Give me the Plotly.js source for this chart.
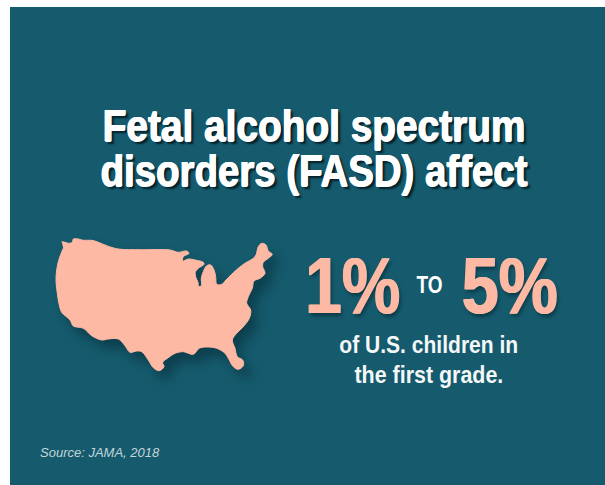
<!DOCTYPE html>
<html>
<head>
<meta charset="utf-8">
<script src="https://cdn.plot.ly/plotly-3.0.1.min.js"></script>
<style>html,body{margin:0;padding:0;background:#fff}#chart{width:605px;height:485px}</style>
</head>
<body>
<div id="chart"></div>
<script>
// Outline of the contiguous United States, in panel units
const outlineX = [61.7,65,68.3,72.3,73.3,78.3,83.3,91.7,98.3,106.7,118.3,140,170,178.3,186.7,189,183.3,182.7,188.3,195,203.3,204,198.3,195.3,196,198,198.7,201.3,201.3,203.3,206.7,210.7,214,215.7,216.7,221.7,226,231.7,238.3,245,253.3,256,258.3,261.7,266,268.3,272.3,268.3,263.3,262.7,265,260,254,252.3,248.3,246.7,250.7,249.3,243.3,236.7,232.3,235,237.3,242.7,243.3,238.3,233.3,228.3,225,216.7,206.7,199.3,193.3,183.3,175,168.3,162.7,164,159.3,153.3,148.3,141.7,136.7,130,125,118.3,108.3,101.7,91.7,83.3,73.3,70,61.7,59.3,57.3,56,58.3,63.3];
const outlineY = [241.7,242.3,243.3,242.3,239,239,240.3,240.3,242.3,245.7,249,249.7,250,252.3,251,253.3,256.7,261,259,260,262.3,264.3,268.3,272.3,277.7,282.3,286.3,285.7,278.3,271.7,265.7,265,270,276.7,284.3,284.3,280,274.3,268.3,263.3,258.3,255,246.7,243.3,245,251,254.3,258.3,262.3,266.7,273.3,278.3,281,288.3,296.7,303.3,310,318.3,326.7,333.3,340,348.3,356.7,360,365.7,369.3,366.7,358.3,353.3,348.3,347,348.3,354.3,351.7,353.3,357.7,362.3,366.7,370.7,367.7,360,351.7,351,352.3,345.7,339,339,340,335.7,328.3,326,320,312.3,305,293.3,278.3,261.7,248.3];

const panelColor = '#155b6d';
const salmon = '#fdb9a3';
const sans = '"Liberation Sans",Arial,sans-serif';

// Text blocks: wording, where each one sits, and its condensed set width
const titleLines = ['Fetal alcohol spectrum', 'disorders (FASD) affect'];
const titleY = [125, 170];
const titleX = [313.5, 313.5];
const titleWidth = [423, 427];
const figures = ['1%', '5%'];
const figureX = [352.5, 510];
const figureWidth = [95, 96];
const captionLines = ['of U.S. children in', 'the first grade.'];
const captionY = [345, 375];
const captionWidth = [179, 149];

// Zero-blur copies of the glyph thicken the type; the last layer is the cast shadow
const titleShadow = '0.6px 0 0 #fff, -0.6px 0 0 #fff, 0 0.5px 0 #fff, 3px 3px 2px #06202a';
const figureShadow = `0.8px 0 0 ${salmon}, -0.8px 0 0 ${salmon}, 2px 3px 4px rgba(5,35,45,.6)`;

function note(text, x, y, size, color, shadow) {
  return {
    text, x, y, xref: 'x', yref: 'y', showarrow: false,
    xanchor: 'center', yanchor: 'middle',
    font: {family: sans, size, color, weight: 700, shadow}
  };
}

const annotations = [
  ...titleLines.map((t, i) => note(t, titleX[i], titleY[i], 45, '#ffffff', titleShadow)),
  ...figures.map((t, i) => note(t, figureX[i], 285, 80, salmon, figureShadow)),
  note('TO', 429, 284, 24, '#ffffff', 'none'),
  ...captionLines.map((t, i) => note(t, 429, captionY[i], 23, '#f4f8f8', 'none')),
  {text: 'Source: JAMA, 2018', x: 38, y: 452, xref: 'x', yref: 'y', showarrow: false,
   xanchor: 'left', yanchor: 'middle',
   font: {family: sans, size: 13, color: '#c3d5d9', style: 'italic'}}
];

// Set width per annotation, in the same order as above
const setWidths = [...titleWidth, ...figureWidth, 26, ...captionWidth, null];

const map = {
  type: 'scatter', mode: 'lines', x: outlineX, y: outlineY,
  fill: 'toself', fillcolor: salmon,
  line: {color: salmon, width: 1, shape: 'spline', smoothing: 1},
  hoverinfo: 'skip'
};

const layout = {
  width: 605, height: 485,
  margin: {l: 10, r: 0, t: 7, b: 0},
  paper_bgcolor: '#ffffff', plot_bgcolor: panelColor,
  showlegend: false,
  xaxis: {range: [10, 605], visible: false, fixedrange: true},
  yaxis: {range: [485, 7], visible: false, fixedrange: true},
  annotations
};

Plotly.newPlot('chart', [map], layout, {displayModeBar: false, staticPlot: true}).then(() => {
  // Soft cast shadow under the map shape
  const tr = document.querySelector('.scatterlayer .trace');
  if (tr) tr.style.filter = 'drop-shadow(7px 9px 6px rgba(5,40,52,.55))';
  // Condense the headline type horizontally about its own centre; the strings stay live text
  document.querySelectorAll('.annotation-text').forEach((el, i) => {
    if (setWidths[i]) {
      const box = el.getBBox();
      const cx = box.x + box.width / 2;
      const s = setWidths[i] / el.getComputedTextLength();
      const prior = el.getAttribute('transform') || '';
      el.setAttribute('transform', `${prior} translate(${cx} 0) scale(${s} 1) translate(${-cx} 0)`);
    }
  });
});
</script>
</body>
</html>
